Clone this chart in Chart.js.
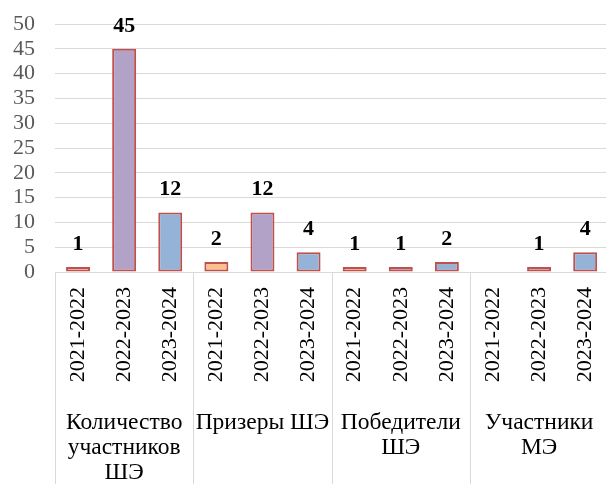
<!DOCTYPE html>
<html>
<head>
<meta charset="utf-8">
<script src="https://cdn.jsdelivr.net/npm/chart.js@4.4.1/dist/chart.umd.min.js"></script>
<style>
  html, body { margin: 0; padding: 0; background: #fff; overflow: hidden; }
  canvas { display: block; }
</style>
</head>
<body>
<canvas id="olympChart" width="627" height="484"></canvas>
<script>
// Chart data
const groupLabels = [
    ['Количество', 'участников', 'ШЭ'],
    ['Призеры ШЭ'],
    ['Победители', 'ШЭ'],
    ['Участники', 'МЭ']
];
const years = ['2021-2022', '2022-2023', '2023-2024'];
const participantsSchool = [1, 45, 12];
const prizeSchool = [2, 12, 4];
const winnersSchool = [1, 1, 2];
const participantsMunicipal = [null, 1, 4];
const yTicks = [0, 5, 10, 15, 20, 25, 30, 35, 40, 45, 50];

const yearColors = ['#fbc08e', '#b3a2c7', '#95b3d7'];

// Flatten into 12 bars
const labels = [];
const values = [];
const colors = [];
[participantsSchool, prizeSchool, winnersSchool, participantsMunicipal].forEach(group => {
    group.forEach((v, i) => {
        labels.push(years[i]);
        values.push(v);
        colors.push(yearColors[i]);
    });
});

const FONT = "'Liberation Serif', 'Times New Roman', serif";

// Value labels above the bars
const valueLabels = {
    id: 'valueLabels',
    afterDatasetsDraw(chart) {
        const ctx = chart.ctx;
        const meta = chart.getDatasetMeta(0);
        ctx.save();
        ctx.font = 'bold 22px ' + FONT;
        ctx.fillStyle = '#000';
        ctx.textAlign = 'center';
        ctx.textBaseline = 'alphabetic';
        meta.data.forEach((bar, i) => {
            const v = values[i];
            if (v === null) return;
            ctx.fillText(String(v), bar.x, bar.y - 17);
        });
        ctx.restore();
    }
};

// Separators between the groups under the axis
const groupLines = {
    id: 'groupLines',
    afterDraw(chart) {
        const ctx = chart.ctx;
        const x = chart.scales.x;
        const step = x.getPixelForValue(1) - x.getPixelForValue(0);
        ctx.save();
        ctx.strokeStyle = '#d9d9d9';
        ctx.lineWidth = 1;
        for (let g = 0; g <= groupLabels.length; g++) {
            const px = Math.round(x.getPixelForValue(g * years.length) - step / 2) + 0.5;
            ctx.beginPath();
            ctx.moveTo(px, chart.chartArea.bottom);
            ctx.lineTo(px, chart.height);
            ctx.stroke();
        }
        ctx.restore();
    }
};

function drawChart() {
    const ctx = document.getElementById('olympChart').getContext('2d');
    return new Chart(ctx, {
        type: 'bar',
        data: {
            labels: labels,
            datasets: [{
                data: values,
                backgroundColor: colors,
                borderColor: '#c0504d',
                borderWidth: 2,
                borderSkipped: false,
                barPercentage: 0.52,
                categoryPercentage: 1
            }]
        },
        options: {
            responsive: false,
            animation: false,
            layout: { padding: { top: 24, right: 10, left: 0, bottom: 0 } },
            plugins: {
                legend: { display: false },
                tooltip: { enabled: false }
            },
            scales: {
                y: {
                    min: 0,
                    max: 50,
                    afterBuildTicks: scale => { scale.ticks = yTicks.map(v => ({ value: v })); },
                    afterFit: scale => {
                        scale.width = 55;
                        // tick padding should not push the plot area down
                        scale.paddingTop = 0;
                        scale.paddingBottom = 0;
                    },
                    grid: { color: '#d9d9d9', lineWidth: 1, drawTicks: false },
                    border: { display: false },
                    ticks: {
                        autoSkip: false,
                        padding: 20,
                        color: '#595959',
                        font: { family: FONT, size: 22 }
                    }
                },
                x: {
                    offset: true,
                    afterFit: scale => { scale.height = 116; },
                    grid: { display: false, drawTicks: false },
                    border: { display: false },
                    ticks: {
                        autoSkip: false,
                        maxRotation: 90,
                        minRotation: 90,
                        padding: 15,
                        color: '#000',
                        font: { family: FONT, size: 22 }
                    }
                },
                x2: {
                    type: 'category',
                    position: 'bottom',
                    labels: groupLabels,
                    offset: true,
                    afterFit: scale => { scale.height = 96; },
                    grid: { display: false, drawTicks: false },
                    border: { display: false },
                    ticks: {
                        autoSkip: false,
                        maxRotation: 0,
                        padding: 22,
                        color: '#000',
                        font: { family: FONT, size: 23.5, lineHeight: 1.07 }
                    }
                }
            }
        },
        plugins: [valueLabels, groupLines]
    });
}

Promise.all([
    document.fonts.load("22px 'Liberation Serif'"),
    document.fonts.load("bold 22px 'Liberation Serif'")
]).catch(() => {}).then(drawChart);
</script>
</body>
</html>
